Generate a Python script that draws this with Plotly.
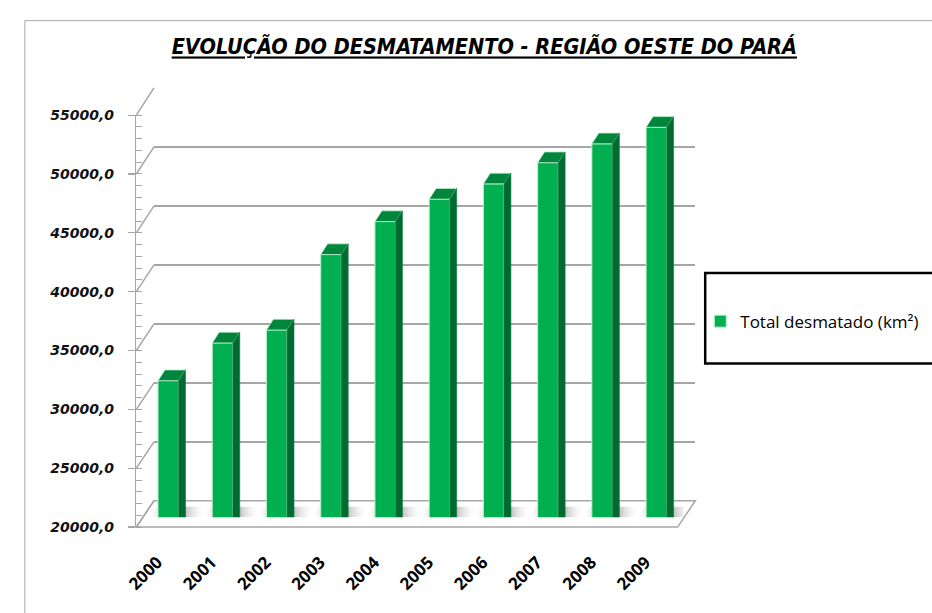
import plotly.graph_objects as go

# ---------------- data ----------------
years = ["2000", "2001", "2002", "2003", "2004", "2005", "2006", "2007", "2008", "2009"]
total_desmatado = [31600, 34800, 35900, 42300, 45100, 47000, 48300, 50100, 51700, 53100]
y_tick_values = [20000, 25000, 30000, 35000, 40000, 45000, 50000, 55000]
y_tick_labels = ["20000,0", "25000,0", "30000,0", "35000,0", "40000,0", "45000,0", "50000,0", "55000,0"]
series_name = "Total desmatado (km²)"
title_text = "EVOLUÇÃO DO DESMATAMENTO - REGIÃO OESTE DO PARÁ"

# ---------------- geometry (reference pixels) ----------------
FW, FH = 932, 613
Y_MIN, Y_MAX = 20000, 55000


def fx(p):
    return p / FW


def fy(p):
    return 1 - p / FH


FRONT = dict(left=125, right=674, bottom=533, top=110)   # front (label) plane
BACK = dict(left=143, right=692, bottom=506, top=82)     # back wall
BARS = dict(left=130, right=680, bottom=523, top=99.5)   # plane of the bar fronts
BAR_WIDTH = 0.38
DEPTH_PX = (7, 11)

n = len(years)
xs = list(range(n))
px_per_x = (BARS["right"] - BARS["left"]) / n
px_per_y = (BARS["bottom"] - BARS["top"]) / (Y_MAX - Y_MIN)
DX = DEPTH_PX[0] / px_per_x
DY = DEPTH_PX[1] / px_per_y

# year-label axis: ticks placed slightly left of bar centres
LABEL_SHIFT_PX = 11
lab_a = (FRONT["left"] - (BARS["left"] + px_per_x / 2 - LABEL_SHIFT_PX)) / px_per_x
lab_b = lab_a + (FRONT["right"] - FRONT["left"]) / px_per_x

GREEN = "#00B050"
GREEN_TOP = "#00853D"
GREEN_SIDE = "#006B30"
GRID = "#A6A6A6"

fig = go.Figure()

# anchor trace for back-wall subplot
fig.add_trace(go.Scatter(x=[None], y=[None], showlegend=False, hoverinfo="skip",
                         xaxis="x", yaxis="y"))

# floor shadows (subplot 2, drawn below the bars)
for i, v in zip(xs, total_desmatado):
    xl, xr = i - BAR_WIDTH / 2, i + BAR_WIDTH / 2
    x0, x1 = xl - 0.17, xr + 0.38
    fig.add_trace(go.Scatter(
        x=[x0, x1, x1 + DX, x0 + DX, x0],
        y=[Y_MIN, Y_MIN, Y_MIN + DY, Y_MIN + DY, Y_MIN],
        fill="toself", mode="none",
        fillgradient=dict(type="horizontal", colorscale=[
            [0, "rgba(255,255,255,0)"], [0.3, "rgba(140,140,140,0.6)"],
            [0.6, "rgba(150,150,150,0.7)"], [1, "rgba(255,255,255,0)"]]),
        showlegend=False, hoverinfo="skip", xaxis="x2", yaxis="y2"))

# front faces of the bars
fig.add_trace(go.Bar(
    x=xs, y=total_desmatado, width=BAR_WIDTH, name=series_name,
    marker=dict(color=GREEN, line=dict(color="#BDEFCB", width=1)),
    xaxis="x3", yaxis="y3"))

# top faces
tx, ty = [], []
for i, v in zip(xs, total_desmatado):
    xl, xr = i - BAR_WIDTH / 2, i + BAR_WIDTH / 2
    tx += [xl, xr, xr + DX, xl + DX, xl, None]
    ty += [v, v, v + DY, v + DY, v, None]
fig.add_trace(go.Scatter(x=tx, y=ty, fill="toself", mode="lines",
                         line=dict(color="#BDEFCB", width=0.8), fillcolor=GREEN_TOP,
                         showlegend=False, hoverinfo="skip", xaxis="x3", yaxis="y3"))

# side faces
sx, sy = [], []
for i, v in zip(xs, total_desmatado):
    xr = i + BAR_WIDTH / 2
    sx += [xr, xr, xr + DX, xr + DX, xr, None]
    sy += [Y_MIN - DY, v, v + DY, Y_MIN, Y_MIN - DY, None]
fig.add_trace(go.Scatter(x=sx, y=sy, fill="toself", mode="lines",
                         line=dict(color="#0E7A3C", width=0.6), fillcolor=GREEN_SIDE,
                         showlegend=False, hoverinfo="skip", xaxis="x3", yaxis="y3"))

# anchor trace for the front value axis / year labels
fig.add_trace(go.Scatter(x=[None], y=[None], showlegend=False, hoverinfo="skip",
                         xaxis="x4", yaxis="y4"))

# ---------------- 3D frame shapes ----------------
shapes = []
shapes.append(dict(type="rect", xref="paper", yref="paper",
                   x0=fx(12), y0=fy(640), x1=fx(960), y1=fy(13),
                   line=dict(color="#A8A8A8", width=1), layer="below"))
shapes.append(dict(type="path", xref="paper", yref="paper", layer="below",
                   path=(f"M {fx(FRONT['left'])},{fy(FRONT['bottom'])} "
                         f"L {fx(BACK['left'])},{fy(BACK['bottom'])} "
                         f"L {fx(BACK['right'])},{fy(BACK['bottom'])} "
                         f"L {fx(FRONT['right'])},{fy(FRONT['bottom'])} Z"),
                   line=dict(color=GRID, width=1.5), fillcolor="white"))
for v in y_tick_values:
    t = (v - Y_MIN) / (Y_MAX - Y_MIN)
    yf = FRONT["bottom"] - t * (FRONT["bottom"] - FRONT["top"])
    yb = BACK["bottom"] - t * (BACK["bottom"] - BACK["top"])
    shapes.append(dict(type="line", xref="paper", yref="paper", layer="below",
                       x0=fx(FRONT["left"]), y0=fy(yf), x1=fx(BACK["left"]), y1=fy(yb),
                       line=dict(color=GRID, width=1.5)))
shapes.append(dict(type="rect", xref="paper", yref="paper",
                   x0=fx(702), y0=fy(365), x1=fx(960), y1=fy(272),
                   line=dict(color="black", width=2.5)))

hidden = dict(visible=False, fixedrange=True)

fig.update_layout(
    width=FW, height=FH,
    margin=dict(l=0, r=0, t=0, b=0),
    paper_bgcolor="white", plot_bgcolor="rgba(0,0,0,0)",
    showlegend=True,
    barmode="overlay",
    hovermode=False,
    title=dict(text=title_text, x=fx(478), y=fy(40), xanchor="center", yanchor="middle",
               xref="paper", yref="paper",
               font=dict(family="Liberation Sans Narrow, DejaVu Sans Condensed, Open Sans, sans-serif",
                         size=21.5, color="black", style="italic", weight="bold",
                         lineposition="under")),
    xaxis=dict(domain=[fx(BACK["left"]), fx(BACK["right"])], anchor="y", range=[0, 1],
               showgrid=False, zeroline=False, showticklabels=False, showline=False, fixedrange=True),
    yaxis=dict(domain=[fy(BACK["bottom"]), fy(BACK["top"])], anchor="x", range=[Y_MIN, Y_MAX],
               tickmode="array", tickvals=y_tick_values, showticklabels=False, ticks="",
               showgrid=True, gridcolor=GRID, gridwidth=1.5, zeroline=False, showline=False,
               fixedrange=True),
    xaxis2=dict(domain=[fx(BARS["left"]), fx(BARS["right"])], anchor="y2", range=[-0.5, n - 0.5], **hidden),
    yaxis2=dict(domain=[fy(BARS["bottom"]), fy(BARS["top"])], anchor="x2", range=[Y_MIN, Y_MAX], **hidden),
    xaxis3=dict(domain=[fx(BARS["left"]), fx(BARS["right"])], anchor="y3", range=[-0.5, n - 0.5], **hidden),
    yaxis3=dict(domain=[fy(BARS["bottom"]), fy(BARS["top"])], anchor="x3", range=[Y_MIN, Y_MAX], **hidden),
    xaxis4=dict(domain=[fx(FRONT["left"]), fx(FRONT["right"])], anchor="y4", range=[lab_a, lab_b],
                tickmode="array", tickvals=xs, ticktext=years, tickangle=-45,
                ticks="", ticklabelstandoff=21, showgrid=False, zeroline=False, showline=False,
                tickfont=dict(family="Open Sans, sans-serif", size=17, color="black", weight="bold"),
                fixedrange=True),
    yaxis4=dict(domain=[fy(FRONT["bottom"]), fy(FRONT["top"])], anchor="x4", range=[Y_MIN, Y_MAX],
                tickmode="array", tickvals=y_tick_values, ticktext=y_tick_labels,
                ticks="outside", ticklen=7, tickcolor=GRID, tickwidth=1.2,
                showline=True, linecolor=GRID, linewidth=1.5,
                minor=dict(tickmode="linear", tick0=Y_MIN, dtick=1000, ticks="inside",
                           ticklen=6, tickcolor=GRID, tickwidth=1),
                showgrid=False, zeroline=False, ticklabelstandoff=11,
                tickfont=dict(family="DejaVu Sans, sans-serif", size=14, color="#111111",
                              weight="bold", style="italic"),
                fixedrange=True),
    legend=dict(x=fx(697), y=fy(322), xanchor="left", yanchor="middle",
                bgcolor="rgba(0,0,0,0)", borderwidth=0,
                font=dict(family="Open Sans, sans-serif", size=17, color="black")),
    shapes=shapes,
)

fig.write_html(
    "out.html",
    config={"displayModeBar": False, "staticPlot": True},
    post_script=("document.body.style.margin='0px';"
                 "document.body.style.overflow='hidden';"
                 "document.documentElement.style.overflow='hidden';"),
)
